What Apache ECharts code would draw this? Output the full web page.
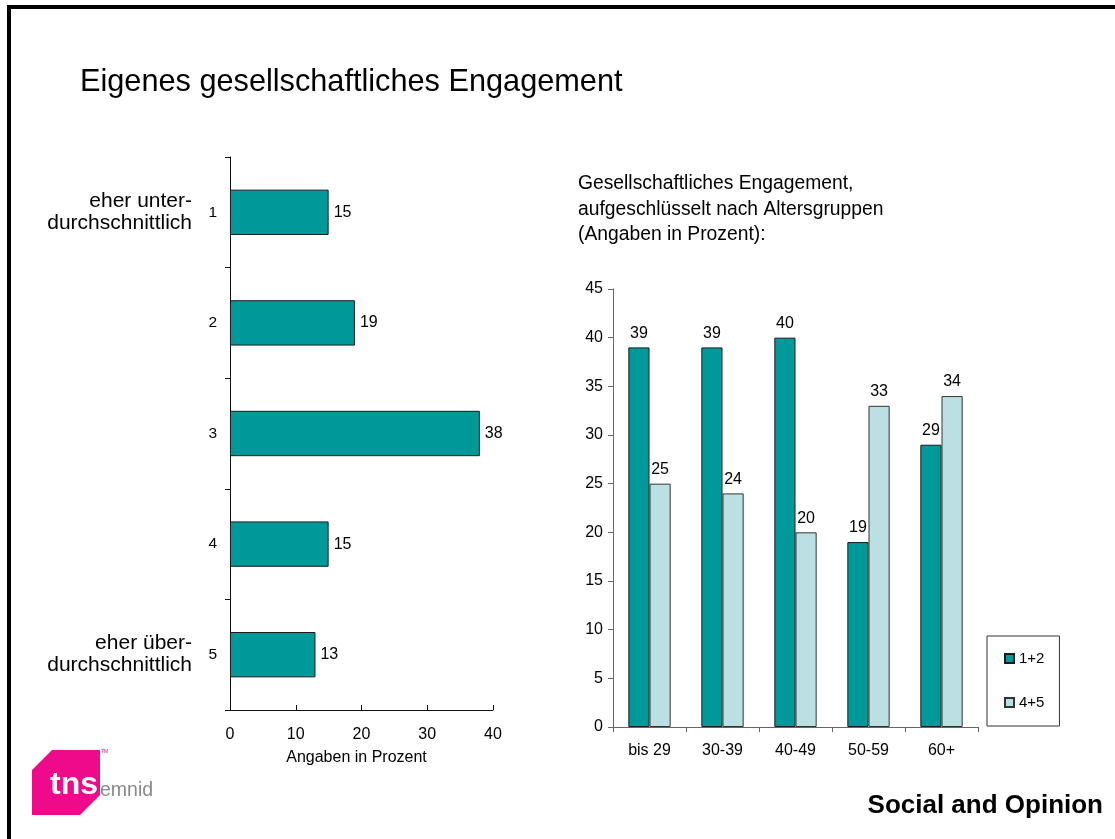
<!DOCTYPE html>
<html>
<head>
<meta charset="utf-8">
<script src="https://cdn.jsdelivr.net/npm/echarts@6/dist/echarts.min.js"></script>
<style>
  html, body { margin: 0; padding: 0; background: #fff; }
  #chart { width: 1115px; height: 839px; }
</style>
</head>
<body>
<div id="chart"></div>
<script>
// Overall rating of one's own civic engagement (scale 1..5)
const ratingCategories = ['1', '2', '3', '4', '5'];
const ratingSideLabels = ['eher unter-\ndurchschnittlich', '', '', '', 'eher über-\ndurchschnittlich'];
const ratingShares = [15, 19, 38, 15, 13];
const ratingTicks = [0, 10, 20, 30, 40];

// Engagement by age group
const ageGroups = ['bis 29', '30-39', '40-49', '50-59', '60+'];
const seriesNames = ['1+2', '4+5'];
const shareLow = [39, 39, 40, 19, 29];
const shareHigh = [25, 24, 20, 33, 34];

const FONT = '"Liberation Sans", Arial, Helvetica, sans-serif';
const TEAL = '#009999';
const PALE = '#BBE0E3';

const chart = echarts.init(document.getElementById('chart'), null, { renderer: 'canvas' });

chart.setOption({
  backgroundColor: '#ffffff',
  animation: false,
  textStyle: { fontFamily: FONT, color: '#000' },
  title: [
    {
      text: 'Eigenes gesellschaftliches Engagement',
      left: 75, top: 62,
      textStyle: { fontFamily: FONT, fontSize: 30.7, fontWeight: 'normal', color: '#000' }
    },
    {
      text: 'Gesellschaftliches Engagement,\naufgeschlüsselt nach Altersgruppen\n(Angaben in Prozent):',
      left: 573, top: 166,
      textStyle: { fontFamily: FONT, fontSize: 19.3, lineHeight: 25.5, fontWeight: 'normal', color: '#000' }
    }
  ],
  legend: {
    data: seriesNames,
    orient: 'vertical',
    left: 987, top: 636,
    padding: [15, 15, 16, 17],
    itemGap: 29,
    itemWidth: 9, itemHeight: 9,
    itemTextGap: 4,
    icon: 'rect',
    borderColor: '#333', borderWidth: 1,
    backgroundColor: '#fff',
    textStyle: { fontFamily: FONT, fontSize: 15, color: '#000' }
  },
  grid: [
    { left: 230, top: 157, width: 263, height: 553 },
    { left: 613, top: 289, width: 365, height: 438 }
  ],
  xAxis: [
    {
      gridIndex: 0, type: 'value',
      min: ratingTicks[0], max: ratingTicks[ratingTicks.length - 1], interval: 10,
      name: 'Angaben in Prozent', nameLocation: 'middle', nameGap: 40,
      nameTextStyle: { fontFamily: FONT, fontSize: 16, color: '#000', padding: [0, 10, 0, 0] },
      axisLine: { show: true, lineStyle: { color: '#111', width: 1 } },
      axisTick: { show: true, inside: true, length: 5, lineStyle: { color: '#111' } },
      axisLabel: { fontFamily: FONT, fontSize: 16, color: '#000', margin: 17 },
      splitLine: { show: false }
    },
    {
      gridIndex: 1, type: 'category', data: ageGroups,
      axisLine: { show: true, lineStyle: { color: '#666', width: 1 } },
      axisTick: { show: true, length: 5, lineStyle: { color: '#666' } },
      axisLabel: { fontFamily: FONT, fontSize: 16, color: '#000', margin: 16 },
      splitLine: { show: false }
    }
  ],
  yAxis: [
    {
      gridIndex: 0, type: 'category', data: ratingCategories, inverse: true,
      axisLine: { show: true, lineStyle: { color: '#111', width: 1 } },
      axisTick: { show: true, length: 5, lineStyle: { color: '#111' } },
      axisLabel: { fontFamily: FONT, fontSize: 15.5, color: '#000', margin: 13 },
      splitLine: { show: false }
    },
    {
      gridIndex: 0, type: 'category', data: ratingSideLabels, inverse: true, position: 'left',
      axisLine: { show: false }, axisTick: { show: false },
      axisLabel: { fontFamily: FONT, fontSize: 21, lineHeight: 22, color: '#000', margin: 38, align: 'right' },
      splitLine: { show: false }
    },
    {
      gridIndex: 1, type: 'value', min: 0, max: 45, interval: 5,
      axisLine: { show: true, lineStyle: { color: '#666', width: 1 } },
      axisTick: { show: true, length: 5, lineStyle: { color: '#666' } },
      axisLabel: { fontFamily: FONT, fontSize: 16, color: '#000', margin: 10 },
      splitLine: { show: false }
    }
  ],
  series: [
    {
      type: 'bar', xAxisIndex: 0, yAxisIndex: 0,
      data: ratingShares,
      barCategoryGap: '59%',
      itemStyle: { color: TEAL, borderColor: '#1a1a1a', borderWidth: 1 },
      label: { show: true, position: 'right', distance: 5, fontFamily: FONT, fontSize: 16, color: '#000' }
    },
    {
      name: seriesNames[0], type: 'bar', xAxisIndex: 1, yAxisIndex: 2,
      data: shareLow,
      barGap: '0%', barCategoryGap: '42%',
      itemStyle: { color: TEAL, borderColor: '#1a1a1a', borderWidth: 1 },
      label: { show: true, position: 'top', distance: 6, fontFamily: FONT, fontSize: 16, color: '#000' }
    },
    {
      name: seriesNames[1], type: 'bar', xAxisIndex: 1, yAxisIndex: 2,
      data: shareHigh,
      barGap: '0%', barCategoryGap: '42%',
      itemStyle: { color: PALE, borderColor: '#333', borderWidth: 1 },
      label: { show: true, position: 'top', distance: 6, fontFamily: FONT, fontSize: 16, color: '#000' }
    }
  ],
  graphic: [
    // slide frame (left and top edges)
    {
      type: 'rect', silent: true, z: 100,
      shape: { x: 9, y: 7, width: 2000, height: 2000 },
      style: { fill: 'none', stroke: '#000', lineWidth: 4 }
    },
    // brand mark
    {
      type: 'polygon', silent: true,
      shape: { points: [[32, 770], [52, 750], [100, 750], [100, 795], [80, 815], [32, 815]] },
      style: { fill: '#EE0A8A' }
    },
    {
      type: 'text', silent: true, left: 50, top: 769,
      style: { text: 'tns', fill: '#fff', font: 'bold 32px ' + FONT }
    },
    {
      type: 'text', silent: true, left: 100, top: 781,
      style: { text: 'emnid', fill: '#888', font: '19.5px ' + FONT }
    },
    {
      type: 'text', silent: true, left: 101, top: 749,
      style: { text: 'TM', fill: '#EE0A8A', font: '5px ' + FONT }
    },
    // footer
    {
      type: 'text', silent: true, right: 12, top: 793,
      style: { text: 'Social and Opinion', fill: '#000', font: 'bold 26px ' + FONT, textAlign: 'right' }
    }
  ]
});
</script>
</body>
</html>
